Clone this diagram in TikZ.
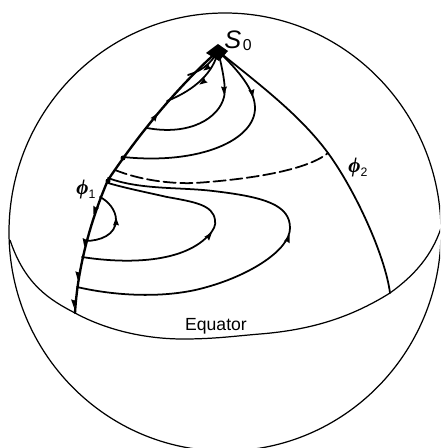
\documentclass[tikz,border=0pt]{standalone}
\usepackage{amsmath,amssymb}
\usepackage{fontspec}
\setmainfont{Liberation Sans}
\newfontfamily\phifont{Liberation Serif}
\usepackage{tikz}
\tikzset{
  sphereline/.style={line width=0.7pt,line join=round},
  meridianline/.style={line width=1.35pt,line cap=round},
  flowline/.style={line width=1pt,line cap=round},
  figurelabel/.style={inner sep=0pt,font=\normalsize}
}
\newcommand{\flowtip}[2]{\fill[shift={(#1)},rotate=#2] (4.5,0) -- (-3.5,-3) -- (-2.6,0) -- (-3.5,3) -- cycle;}

\begin{document}
\begin{tikzpicture}[x=0.02cm,y=-0.02cm]
  \clip (0,0) rectangle (440,448);
  \coordinate (source) at (218,51);
  \coordinate (eqleft) at (75,313);
  \coordinate (eqright) at (390,293);
  \coordinate (phione) at (108,180);
  \coordinate (phitwo) at (328,153);

  % sphere and equator
  \draw[sphereline] (225,232) ellipse [x radius=216,y radius=219];
  \draw[sphereline] (10,240) .. controls (25,285) and (50,300) .. (eqleft)
    .. controls (110,332) and (150,339) .. (183,339)
    .. controls (215,339) and (235,336) .. (260,334)
    .. controls (310,330) and (350,318) .. (eqright)
    .. controls (415,275) and (432,255) .. (441,228);

  % meridians
  \draw[meridianline] (source) .. controls (185,80) and (145,125) .. (phione)
    .. controls (95,210) and (78,260) .. (eqleft);
  \draw[flowline] (source) .. controls (260,85) and (300,115) .. (phitwo)
    .. controls (355,190) and (385,255) .. (eqright);

  % trajectories
  \draw[flowline] (source) .. controls (210,66) and (198,72) .. (188,75);
  \draw[flowline] (source) .. controls (214,72) and (195,90) .. (167,101);
  \draw[flowline] (source) .. controls (224,75) and (226,90) .. (224,97)
    .. controls (219,118) and (190,136) .. (147,128);
  \draw[flowline] (source) .. controls (238,70) and (255,90) .. (255,108)
    .. controls (255,140) and (200,165) .. (123,157);
  \draw[flowline,dash pattern=on 7pt off 2.5pt] (115,170) .. controls (140,180) and (170,184) .. (195,183)
    .. controls (240,180) and (305,172) .. (phitwo);
  \draw[flowline] (77,287) .. controls (120,297) and (170,298) .. (207,287)
    .. controls (250,275) and (290,250) .. (290,228)
    .. controls (290,205) and (265,197) .. (213,191)
    .. controls (180,187) and (140,190) .. (108,178);
  \draw[flowline] (82,257) .. controls (120,263) and (180,265) .. (208,236)
    .. controls (214,230) and (216,225) .. (215,220)
    .. controls (213,205) and (195,202) .. (167,197)
    .. controls (145,192) and (125,188) .. (108,183);
  \draw[flowline] (85,241) .. controls (100,241) and (116,235) .. (116,220)
    .. controls (116,210) and (108,201) .. (100,197);

  % arrowheads
  \flowtip{207,68}{215}
  \flowtip{203,82}{215}
  \flowtip{224,90}{-90}
  \flowtip{252,93}{-80}
  \flowtip{155,117}{55}
  \flowtip{95,210}{-110}
  \flowtip{85,242}{-100}
  \flowtip{78,275}{-95}
  \flowtip{74,303}{-92}
  \flowtip{116,222}{90}
  \flowtip{209,236}{50}
  \flowtip{288,239}{70}
  \fill (123,158) circle [radius=2.5];
  \fill (108,181) circle [radius=2.5];

  % source blob
  \fill (218,44) -- (228,51) -- (219,61) -- (206,53) -- cycle;

  \node[figurelabel] (s0label) at (238,41) {{\Large\itshape S}\hspace{1pt}\raisebox{-1pt}{\small 0}};
  \node[figurelabel] (phionelabel) at (86,190) {{\phifont\large\bfseries\itshape ϕ}\raisebox{-2pt}{\scriptsize 1}};
  \node[figurelabel] (phitwolabel) at (358,168) {{\phifont\large\bfseries\itshape ϕ}\raisebox{-2pt}{\scriptsize 2}};
  \node[figurelabel] (equator) at (216,326) {Equator};
\end{tikzpicture}
\end{document}
